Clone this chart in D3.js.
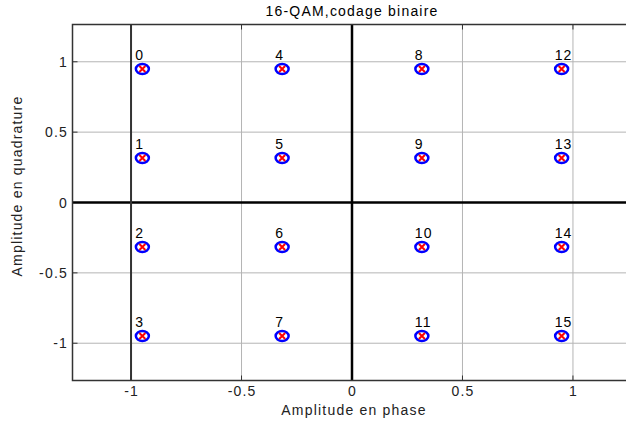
<!DOCTYPE html>
<html>
<head>
<meta charset="utf-8">
<script src="https://cdn.jsdelivr.net/npm/d3@7"></script>
<style>
  html, body { margin: 0; padding: 0; background: #fff; }
  svg { display: block; font-family: "Liberation Sans", Arial, sans-serif; }
  svg text { letter-spacing: 1.2px; }
</style>
</head>
<body>
<svg id="chart" width="626" height="423"></svg>
<script>
// 16-QAM constellation, symbols numbered in natural binary order
const symbolI = [-0.9487, -0.9487, -0.9487, -0.9487, -0.3162, -0.3162, -0.3162, -0.3162,
                  0.3162,  0.3162,  0.3162,  0.3162,  0.9487,  0.9487,  0.9487,  0.9487];
const symbolQ = [ 0.9487,  0.3162, -0.3162, -0.9487,  0.9487,  0.3162, -0.3162, -0.9487,
                  0.9487,  0.3162, -0.3162, -0.9487,  0.9487,  0.3162, -0.3162, -0.9487];
const symbolLabels = ["0","1","2","3","4","5","6","7","8","9","10","11","12","13","14","15"];
const xTicks = [-1, -0.5, 0, 0.5, 1];
const yTicks = [-1, -0.5, 0, 0.5, 1];
const axisLimit = 1.2649;

(function () {
const svg = d3.select("#chart");
const mLeft = 72.5, mRight = 631.5, mTop = 24.5, mBottom = 380.5;
const fs = 14;

const x = d3.scaleLinear().domain([-axisLimit, axisLimit]).range([mLeft, mRight]);
const y = d3.scaleLinear().domain([-axisLimit, axisLimit]).range([mBottom, mTop]);

const plot = svg.append("g");

// grid
plot.selectAll("line.gx").data(xTicks).join("line")
  .attr("x1", d => x(d)).attr("x2", d => x(d))
  .attr("y1", mTop).attr("y2", mBottom)
  .attr("stroke", "#b4b4b4").attr("stroke-width", 1);
plot.selectAll("line.gy").data(yTicks).join("line")
  .attr("y1", d => y(d)).attr("y2", d => y(d))
  .attr("x1", mLeft).attr("x2", mRight)
  .attr("stroke", "#b4b4b4").attr("stroke-width", 1);

// tick marks inside the box
const tickLen = 5;
plot.selectAll("line.tb").data(xTicks).join("line")
  .attr("x1", d => x(d)).attr("x2", d => x(d))
  .attr("y1", mBottom).attr("y2", mBottom - tickLen)
  .attr("stroke", "#333").attr("stroke-width", 1);
plot.selectAll("line.tt").data(xTicks).join("line")
  .attr("x1", d => x(d)).attr("x2", d => x(d))
  .attr("y1", mTop).attr("y2", mTop + tickLen)
  .attr("stroke", "#333").attr("stroke-width", 1);
plot.selectAll("line.tl").data(yTicks).join("line")
  .attr("y1", d => y(d)).attr("y2", d => y(d))
  .attr("x1", mLeft).attr("x2", mLeft + tickLen)
  .attr("stroke", "#333").attr("stroke-width", 1);

// reference lines: I and Q axes, plus the I = -1 line
plot.append("line")
  .attr("x1", mLeft).attr("x2", mRight).attr("y1", y(0)).attr("y2", y(0))
  .attr("stroke", "#000").attr("stroke-width", 2.5);
plot.append("line")
  .attr("x1", x(0)).attr("x2", x(0)).attr("y1", mTop).attr("y2", mBottom)
  .attr("stroke", "#000").attr("stroke-width", 2.5);
plot.append("line")
  .attr("x1", x(-1)).attr("x2", x(-1)).attr("y1", mTop).attr("y2", mBottom)
  .attr("stroke", "#333").attr("stroke-width", 2);

// box
plot.append("rect")
  .attr("x", mLeft).attr("y", mTop)
  .attr("width", mRight - mLeft).attr("height", mBottom - mTop)
  .attr("fill", "none").attr("stroke", "#333").attr("stroke-width", 1.5);

// tick labels (plain hyphen for negatives)
svg.selectAll("text.xt").data(xTicks).join("text")
  .attr("x", d => x(d) + 0.6).attr("y", 396)
  .attr("text-anchor", "middle").attr("font-size", fs).attr("fill", "#222")
  .text(d => String(d));
svg.selectAll("text.yt").data(yTicks).join("text")
  .attr("x", 68).attr("y", d => y(d) + 5)
  .attr("text-anchor", "end").attr("font-size", fs).attr("fill", "#222")
  .text(d => String(d));

// constellation points
const pts = symbolI.map((v, i) => ({ i: v, q: symbolQ[i], label: symbolLabels[i] }));
const g = plot.selectAll("g.pt").data(pts).join("g")
  .attr("transform", d => `translate(${x(d.i)},${y(d.q)})`);
g.append("ellipse").attr("rx", 6.5).attr("ry", 5)
  .attr("fill", "none").attr("stroke", "#0000ff").attr("stroke-width", 2.5);
g.append("path").attr("d", "M-3,-3L3,3M-3,3L3,-3")
  .attr("stroke", "#ff0000").attr("stroke-width", 2);
g.append("text")
  .attr("x", -7).attr("y", -9)
  .attr("font-size", fs).attr("fill", "#000")
  .text(d => d.label);

// titles
svg.append("text").attr("x", 352).attr("y", 16).attr("text-anchor", "middle")
  .attr("font-size", fs).attr("fill", "#000").text("16-QAM,codage binaire");
svg.append("text").attr("x", 354).attr("y", 415).attr("text-anchor", "middle")
  .attr("font-size", fs).attr("fill", "#222").text("Amplitude en phase");
svg.append("text").attr("transform", "translate(22,186) rotate(-90)")
  .attr("text-anchor", "middle")
  .attr("font-size", fs).attr("fill", "#222").text("Amplitude en quadrature");
})();
</script>
</body>
</html>
